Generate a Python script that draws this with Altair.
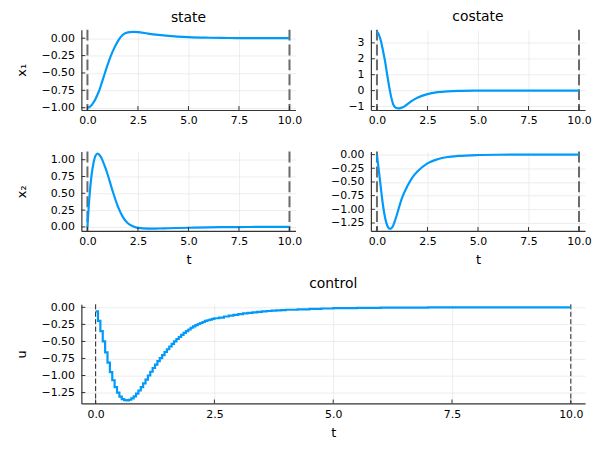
import altair as alt
import pandas as pd

BLUE = "#009AFA"
FONT = "DejaVu Sans"

TIME_BOUNDS = [0.0, 10.0]
X_TICKS = [0.0, 2.5, 5.0, 7.5, 10.0]

# state x1, x2
T_X = [0, 0.1, 0.2, 0.3, 0.4, 0.5, 0.6, 0.7, 0.8, 0.9, 1.0, 1.25, 1.5, 1.75,
       2.0, 2.25, 2.5, 3.0, 3.5, 4.0, 5.0, 6.0, 7.0, 8.0, 9.0, 10.0]
X1 = [-1.0, -0.99, -0.965, -0.925, -0.875, -0.81, -0.74, -0.65, -0.56, -0.47,
      -0.38, -0.19, -0.045, 0.05, 0.085, 0.09, 0.087, 0.066, 0.048, 0.033,
      0.015, 0.007, 0.003, 0.001, 0.0, 0.0]
X2 = [0.0, 0.45, 0.76, 0.95, 1.06, 1.09, 1.07, 1.02, 0.95, 0.87, 0.78, 0.53,
      0.31, 0.15, 0.055, 0.01, -0.015, -0.025, -0.024, -0.02, -0.012, -0.006,
      -0.003, -0.001, 0.0, 0.0]

# costate p1, p2
T_P1 = [0, 0.1, 0.2, 0.3, 0.4, 0.5, 0.6, 0.7, 0.8, 0.9, 1.0, 1.1, 1.25, 1.5,
        1.75, 2.0, 2.5, 3.0, 3.5, 4.0, 5.0, 6.0, 8.0, 10.0]
P1 = [3.72, 3.5, 3.1, 2.5, 1.85, 1.05, 0.28, -0.38, -0.85, -1.05, -1.11, -1.12,
      -1.07, -0.86, -0.63, -0.45, -0.22, -0.1, -0.045, -0.02, -0.005, 0.0, 0.0,
      0.0]
T_P2 = [0, 0.05, 0.1, 0.15, 0.2, 0.3, 0.4, 0.5, 0.6, 0.65, 0.7, 0.8, 0.9, 1.0,
        1.25, 1.5, 1.75, 2.0, 2.5, 3.0, 3.5, 4.0, 5.0, 6.0, 8.0, 10.0]
P2 = [0.0, -0.16, -0.31, -0.47, -0.63, -0.93, -1.15, -1.29, -1.35, -1.355,
      -1.35, -1.3, -1.2, -1.08, -0.78, -0.58, -0.42, -0.31, -0.16, -0.085,
      -0.045, -0.025, -0.008, -0.003, 0.0, 0.0]

# control u (piecewise constant)
T_U = [0.0, 0.05, 0.1, 0.15, 0.2, 0.25, 0.3, 0.35, 0.4, 0.45, 0.5, 0.55, 0.6,
       0.65, 0.7, 0.75, 0.8, 0.85, 0.9, 0.95, 1.0, 1.05, 1.1, 1.15, 1.2, 1.25,
       1.3, 1.35, 1.4, 1.45, 1.5, 1.55, 1.6, 1.65, 1.7, 1.75, 1.8, 1.85, 1.9,
       1.95, 2.0, 2.05, 2.1, 2.15, 2.2, 2.25, 2.3, 2.35, 2.4, 2.45, 2.5,
       2.6, 2.7, 2.8, 2.9, 3.0, 3.1, 3.2, 3.3, 3.4, 3.5, 3.6, 3.7, 3.8, 3.9,
       4.0, 4.25, 4.5, 4.75, 5.0, 5.5, 6.0, 7.0, 8.0, 9.0, 10.0]
U = [-0.06, -0.2, -0.35, -0.5, -0.66, -0.81, -0.95, -1.07, -1.17, -1.25, -1.31,
     -1.345, -1.36, -1.365, -1.355, -1.335, -1.305, -1.265, -1.22, -1.17,
     -1.115, -1.06, -1.0, -0.945, -0.89, -0.84, -0.79, -0.745, -0.7, -0.655,
     -0.615, -0.575, -0.535, -0.5, -0.465, -0.435, -0.405, -0.375, -0.35,
     -0.325, -0.3, -0.28, -0.26, -0.245, -0.23, -0.215, -0.2, -0.19, -0.18,
     -0.17, -0.16,
     -0.15, -0.135, -0.123, -0.11, -0.1, -0.09, -0.082, -0.074, -0.066, -0.06,
     -0.054, -0.049, -0.044, -0.04, -0.036, -0.029, -0.022, -0.017, -0.013,
     -0.008, -0.005, -0.002, -0.001, 0.0, 0.0]

X_DOMAIN = [-0.3, 10.3]
AXIS_COLOR = "#333333"


def panel(t, v, ydomain, yticks, yfmt, w, h, ytitle=None, title=None,
          title_offset=3, xtitle=None, interp="monotone", dash_color="#6a6a6a",
          dash_width=2.0, dash=(11, 4)):
    xscale = alt.Scale(domain=X_DOMAIN, nice=False, zero=False)
    yscale = alt.Scale(domain=ydomain, nice=False, zero=False)
    xaxis_kw = dict(values=X_TICKS, format=".1f", grid=True)
    xaxis_kw["title"] = xtitle if xtitle else ""
    yaxis_kw = dict(values=yticks, format=yfmt, grid=True)
    yaxis_kw["title"] = ytitle if ytitle else ""
    xenc = alt.X("t:Q", scale=xscale, axis=alt.Axis(**xaxis_kw))
    yenc = alt.Y("v:Q", scale=yscale, axis=alt.Axis(**yaxis_kw))

    df = pd.DataFrame({"t": t, "v": v})
    bounds = alt.Chart(pd.DataFrame({"t": TIME_BOUNDS})).mark_rule(
        color=dash_color, strokeWidth=dash_width, strokeDash=list(dash)
    ).encode(x=xenc)
    line = alt.Chart(df).mark_line(
        color=BLUE, strokeWidth=2.2, interpolate=interp
    ).encode(x=xenc, y=yenc)
    xt = alt.Chart(pd.DataFrame({"t": X_TICKS})).mark_rule(
        color=AXIS_COLOR, strokeWidth=1
    ).encode(x=xenc, y=alt.value(h), y2=alt.value(h - 4))
    yt = alt.Chart(pd.DataFrame({"v": yticks})).mark_rule(
        color=AXIS_COLOR, strokeWidth=1
    ).encode(y=yenc, x=alt.value(0), x2=alt.value(4))
    ch = alt.layer(bounds, line, xt, yt).properties(width=w, height=h)
    if title:
        ch = ch.properties(title=alt.TitleParams(
            title, anchor="middle", fontSize=14, fontWeight="normal",
            font=FONT, color="#000000", offset=title_offset))
    return ch


W = 216
x1p = panel(T_X, X1, [-1.033, 0.123], [-1.0, -0.75, -0.5, -0.25, 0.0], ".2f",
            W, 81, ytitle="x₁", title="state")
p1p = panel(T_P1, P1, [-1.22, 3.83], [-1, 0, 1, 2, 3], "d",
            W, 81, title="costate")
x2p = panel(T_X, X2, [-0.06, 1.12], [0.0, 0.25, 0.5, 0.75, 1.0], ".2f",
            W, 80, ytitle="x₂", xtitle="t")
p2p = panel(T_P2, P2, [-1.395, 0.054], [-1.25, -1.0, -0.75, -0.5, -0.25, 0.0],
            ".2f", W, 80, xtitle="t")
up = panel(T_U, U, [-1.41, 0.044], [-1.25, -1.0, -0.75, -0.5, -0.25, 0.0],
           ".2f", 508, 100, ytitle="u", title="control", title_offset=10,
           xtitle="t", interp="step-after", dash_color="#222222",
           dash_width=1.0, dash=(5, 2.5))

row1 = alt.hconcat(x1p, p1p, spacing=76, bounds="flush")
row2 = alt.hconcat(x2p, p2p, spacing=76, bounds="flush")
top = alt.vconcat(row1, row2, spacing=22)
chart = alt.vconcat(top, up, spacing=11).properties(
    padding={"left": 8, "top": 0, "right": 0, "bottom": 0}
).configure(font=FONT).configure_view(stroke=None).configure_axis(
    labelFont=FONT, labelFontSize=11, labelColor="#000000",
    titleFont=FONT, titleFontSize=13, titleFontWeight="normal",
    titleColor="#000000", domainColor=AXIS_COLOR, domainWidth=1.2,
    ticks=False, tickSize=0, gridColor="#e8e8e8", gridWidth=0.8,
).configure_axisY(
    labelPadding=7, titlePadding=8, minExtent=45, maxExtent=45,
).configure_axisX(
    labelPadding=5, titlePadding=7,
)

chart.save("out.html", embed_options={"renderer": "svg", "actions": False})
